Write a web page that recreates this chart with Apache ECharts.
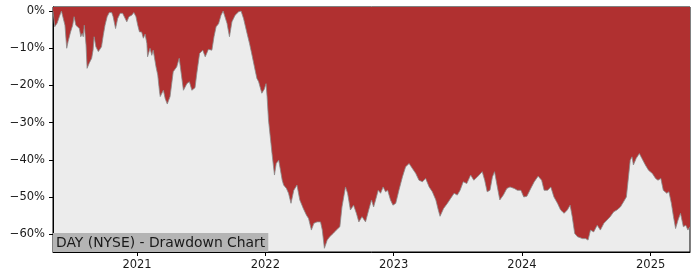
<!DOCTYPE html>
<html>
<head>
<meta charset="utf-8">
<script src="https://cdn.jsdelivr.net/npm/echarts@6/dist/echarts.min.js"></script>
<style>html,body{margin:0;padding:0;background:#fff}#c{width:700px;height:280px}</style>
</head>
<body>
<div id="c"></div>
<script>
const title = "DAY (NYSE) - Drawdown Chart";
const yearTicks = ["2021-01-01","2022-01-01","2023-01-01","2024-01-01","2025-01-01"];
const yTicks = [0,-10,-20,-30,-40,-50,-60];
const dates = [
"2020-05-07","2020-05-12","2020-05-19","2020-05-25","2020-05-31","2020-06-05","2020-06-10","2020-06-15","2020-06-19","2020-06-26",
"2020-07-02","2020-07-06","2020-07-11","2020-07-15","2020-07-21","2020-07-25","2020-07-29","2020-08-01","2020-08-04","2020-08-09",
"2020-08-12","2020-08-18","2020-08-25","2020-08-29","2020-09-01","2020-09-06","2020-09-13","2020-09-18","2020-09-22","2020-09-27",
"2020-10-02","2020-10-08","2020-10-14","2020-10-21","2020-10-25","2020-11-01","2020-11-07","2020-11-14","2020-11-21","2020-11-25",
"2020-12-03","2020-12-09","2020-12-17","2020-12-23","2020-12-29",
"2021-01-03","2021-01-08","2021-01-14","2021-01-19","2021-01-24","2021-01-29","2021-01-31","2021-02-07","2021-02-12","2021-02-16",
"2021-02-24","2021-03-01","2021-03-06","2021-03-08","2021-03-17","2021-03-22","2021-03-28","2021-04-05","2021-04-14","2021-04-24",
"2021-05-01","2021-05-08","2021-05-13","2021-05-23","2021-05-30","2021-06-06","2021-06-15","2021-06-20","2021-06-28","2021-07-07",
"2021-07-14","2021-07-19","2021-07-23","2021-08-02","2021-08-08","2021-08-14","2021-08-21","2021-08-28","2021-09-03","2021-09-06",
"2021-09-14","2021-09-21","2021-09-28","2021-10-07","2021-10-17","2021-10-24","2021-10-31","2021-11-10","2021-11-17","2021-11-24",
"2021-12-03","2021-12-08","2021-12-13","2021-12-18","2021-12-22","2021-12-29",
"2022-01-03","2022-01-06","2022-01-10","2022-01-15","2022-01-20","2022-01-27","2022-02-01","2022-02-08","2022-02-18","2022-02-22",
"2022-03-02","2022-03-08","2022-03-15","2022-03-23","2022-04-01","2022-04-09","2022-04-19","2022-04-28","2022-05-04","2022-05-12",
"2022-05-19","2022-05-28","2022-06-07","2022-06-12","2022-06-18","2022-06-26","2022-07-03","2022-07-13","2022-07-22","2022-08-01",
"2022-08-07","2022-08-17","2022-08-23","2022-08-31","2022-09-09","2022-09-17","2022-09-24","2022-10-03","2022-10-13","2022-10-22",
"2022-10-30","2022-11-05","2022-11-13","2022-11-18","2022-11-25","2022-12-02","2022-12-09","2022-12-15","2022-12-23","2022-12-30",
"2023-01-07","2023-01-16","2023-01-26","2023-02-04","2023-02-14","2023-02-23","2023-03-05","2023-03-14","2023-03-24","2023-04-02",
"2023-04-12","2023-04-21","2023-05-01","2023-05-08","2023-05-13","2023-05-23","2023-06-03","2023-06-12","2023-06-22","2023-07-01",
"2023-07-09","2023-07-18","2023-07-28","2023-08-08","2023-08-17","2023-08-27","2023-09-10","2023-09-17","2023-09-24","2023-10-02",
"2023-10-09","2023-10-15","2023-10-23","2023-10-30","2023-11-09","2023-11-19","2023-11-28","2023-12-10","2023-12-19","2023-12-29",
"2024-01-06","2024-01-15","2024-01-26","2024-02-05","2024-02-16","2024-02-26","2024-03-04","2024-03-14","2024-03-23","2024-04-01",
"2024-04-11","2024-04-20","2024-04-30","2024-05-09","2024-05-17","2024-05-23","2024-05-30","2024-06-07","2024-06-21","2024-06-30",
"2024-07-07","2024-07-14","2024-07-23","2024-08-02","2024-08-11","2024-08-21","2024-08-30","2024-09-08","2024-09-18","2024-09-27",
"2024-10-07","2024-10-16","2024-10-24","2024-10-30","2024-11-04","2024-11-09","2024-11-13","2024-11-21","2024-11-30","2024-12-07",
"2024-12-17","2024-12-26",
"2025-01-06","2025-01-15","2025-01-22","2025-01-30","2025-02-06","2025-02-16","2025-02-22","2025-03-01","2025-03-07","2025-03-13",
"2025-03-20","2025-03-27","2025-04-04","2025-04-11","2025-04-17","2025-04-23"
];
const drawdown = [
0,-4.2,-3.2,-1.5,0,0,-3.8,-10,-8.2,-5.6,
-3.8,-1.5,-3.8,-4.2,-4.7,-6.9,-6,-6.9,-3.8,-9.1,
-15.4,-14,-12.7,-10.5,-6.9,-9.6,-10.9,-10.5,-9.6,-6.5,
-3.8,-1.5,-0.4,-0.4,-1.5,-4.7,-2,-0.6,-0.6,-1.1,
-2.9,-1.5,-1.1,-0.4,-1.5,
-3.8,-5.6,-5.6,-7.3,-6.2,-8.7,-12.3,-10,-11.9,-10.5,
-15,-17.2,-21.7,-23,-21.3,-23.5,-25,-23,-16.3,-15,
-12.7,-17.7,-21.3,-19.5,-19,-21.3,-20.6,-16.8,-11.4,-10.5,
-12.3,-12.7,-10.3,-10.5,-6.9,-4.2,-3.4,-1.1,0,-0.2,
-3.3,-6.9,-2.9,-1.1,-0.2,0,-2,-6,-8.7,-11.8,
-15.9,-18.1,-19,-19.5,-22.1,-21,
-19.5,-23,-29.3,-33.8,-38.3,-44.1,-41,-40.1,-45.5,-46.8,
-47.7,-49,-51.7,-48.2,-46.8,-50.8,-53.1,-54.9,-55.8,-58.9,
-57.1,-56.7,-56.7,-58.9,-63.8,-61.6,-60.7,-59.8,-58.9,-58,
-52.7,-47.3,-49,-53.5,-52.2,-54.4,-56.7,-55.3,-56.7,-53.5,
-50.8,-52.7,-50,-48.2,-49,-47.3,-48.6,-48.2,-50.8,-52.2,
-51.7,-48.2,-44.6,-41.9,-41,-42.3,-43.7,-45.5,-45.9,-45,
-47.3,-48.6,-50.8,-53.5,-55.2,-53.1,-51.7,-50.4,-49,-49.5,
-48.2,-45.9,-46.4,-44.1,-45.5,-44.6,-43.2,-45.5,-48.6,-48.2,
-44.6,-43.2,-47.3,-50.8,-49.5,-47.7,-47.3,-47.7,-48.2,-48.2,
-50,-49.8,-47.7,-45.9,-44.4,-45.5,-48.2,-48.2,-47.3,-50,
-51.7,-53.5,-54.4,-53.5,-52.2,-55.3,-59.8,-60.7,-61.2,-61.2,
-61.6,-58.9,-59.4,-57.6,-58.9,-57.1,-56.2,-55.3,-54,-53.5,
-52.7,-51.3,-50,-44.6,-40.1,-39.2,-41.4,-39.6,-38.3,-39.6,
-41.4,-42.8,
-43.7,-45,-45.5,-45,-48.2,-49,-48.6,-51.7,-55.3,-58.5,
-56.2,-54.4,-58,-57.6,-58.9,-58
];

const ts = s => { const p = s.split('-').map(Number); return Date.UTC(p[0], p[1]-1, p[2]); };
const seriesData = dates.map((d, i) => [ts(d), drawdown[i]]);
const yearTs = yearTicks.map(ts);
const font = "DejaVu Sans";

const chart = echarts.init(document.getElementById('c'), null, {renderer: 'canvas'});
chart.setOption({
  animation: false,
  backgroundColor: '#ffffff',
  title: {
    text: title,
    left: 53, bottom: 28,
    padding: [2, 3, 1, 3],
    backgroundColor: '#b4b4b4',
    textStyle: {fontFamily: font, fontSize: 13.9, fontWeight: 'normal', color: '#1a1a1a', lineHeight: 16},
    z: 10
  },
  grid: {
    left: 53, right: 10, top: 7, bottom: 28,
    show: true, backgroundColor: '#ececec', borderColor: '#000', borderWidth: 1
  },
  xAxis: {
    type: 'value',
    min: seriesData[0][0], max: seriesData[seriesData.length-1][0],
    axisLine: {show: true, onZero: false, lineStyle: {color: '#000', width: 1}},
    axisTick: {show: true, length: 4, inside: false, customValues: yearTs, lineStyle: {color: '#000'}},
    axisLabel: {customValues: yearTs, formatter: v => String(new Date(v).getUTCFullYear()),
      fontFamily: font, fontSize: 11.5, color: '#1a1a1a', margin: 7},
    splitLine: {show: false}
  },
  yAxis: {
    type: 'value',
    min: -64.8, max: 1.1,
    axisLine: {show: true, lineStyle: {color: '#000', width: 1}},
    axisTick: {show: true, length: 4, customValues: yTicks, lineStyle: {color: '#000'}},
    axisLabel: {customValues: yTicks, formatter: v => (v < 0 ? '\u2212' + Math.abs(v) : v) + '%',
      fontFamily: font, fontSize: 11.5, color: '#1a1a1a', margin: 8},
    splitLine: {show: false}
  },
  series: [{
    type: 'line',
    data: seriesData,
    showSymbol: false,
    symbol: 'none',
    lineStyle: {color: '#8a8a8a', width: 0.8},
    areaStyle: {color: '#b03030', opacity: 1, origin: 'end'}
  }]
});
</script>
</body>
</html>
